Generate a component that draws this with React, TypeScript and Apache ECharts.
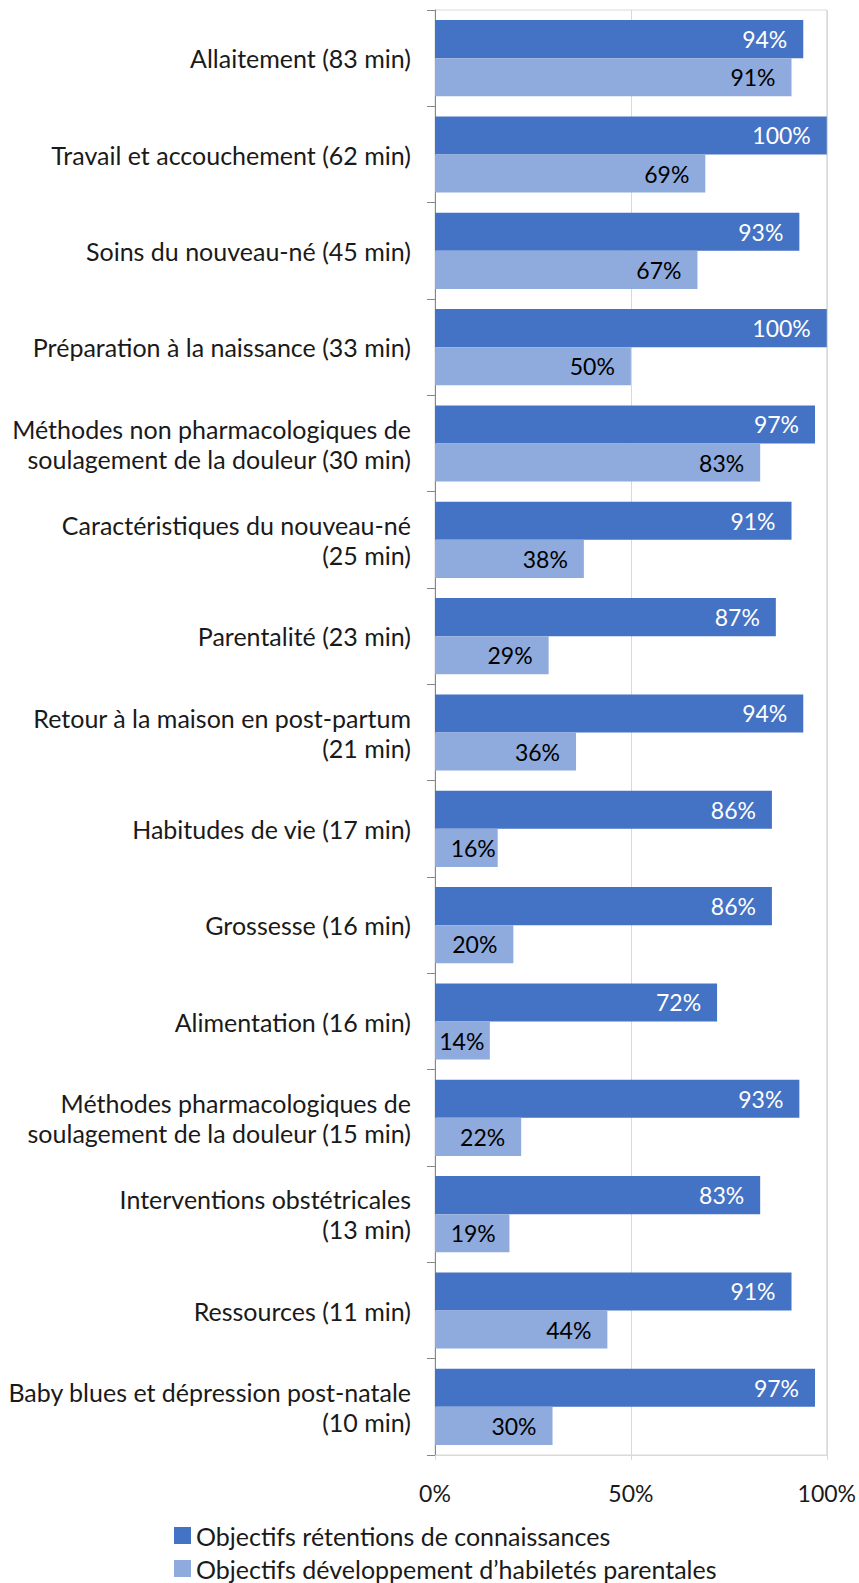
import React, { useEffect, useRef } from "react";
import * as echarts from "echarts";

const categories = [
  "Allaitement (83 min)",
  "Travail et accouchement (62 min)",
  "Soins du nouveau-né (45 min)",
  "Préparation à la naissance (33 min)",
  "Méthodes non pharmacologiques de\nsoulagement de la douleur (30 min)",
  "Caractéristiques du nouveau-né\n(25 min)",
  "Parentalité (23 min)",
  "Retour à la maison en post-partum\n(21 min)",
  "Habitudes de vie (17 min)",
  "Grossesse (16 min)",
  "Alimentation (16 min)",
  "Méthodes pharmacologiques de\nsoulagement de la douleur (15 min)",
  "Interventions obstétricales\n(13 min)",
  "Ressources (11 min)",
  "Baby blues et dépression post-natale\n(10 min)",
];

const retention = [94, 100, 93, 100, 97, 91, 87, 94, 86, 86, 72, 93, 83, 91, 97];
const habiletes = [91, 69, 67, 50, 83, 38, 29, 36, 16, 20, 14, 22, 19, 44, 30];

const seriesNames = [
  "Objectifs rétentions de connaissances",
  "Objectifs développement d’habiletés parentales",
];

const xTicks = [0, 50, 100];

const FONT = "Lato";
const PLOT_W = 393;
const LABEL_W = 44;

// Excel-like inside-end label padding: shrink padding when the bar is short
function labelDistance(v: number) {
  const room = (v / 100) * PLOT_W - LABEL_W;
  if (room >= 33) return 16;
  if (room > 17) return room - 17;
  return Math.max(1, room / 2);
}

export default function App() {
  const ref = useRef<HTMLDivElement>(null);
  useEffect(() => {
    document.body.style.margin = "0";
    const chart = echarts.init(ref.current!, null, { renderer: "svg" });
    const mkData = (arr: number[]) =>
      arr.map((v) => ({ value: v, label: { distance: labelDistance(v) } }));
    const legendBase = {
      orient: "vertical",
      left: 174,
      padding: 0,
      itemWidth: 17,
      itemHeight: 17,
      icon: "rect",
      textStyle: { fontFamily: FONT, fontSize: 25, lineHeight: 22, color: "#1a1a1a" },
    };
    chart.setOption({
      animation: false,
      textStyle: { fontFamily: FONT },
      grid: {
        left: 435,
        right: 31,
        top: 10,
        bottom: 128,
        show: true,
        borderColor: "#d9d9d9",
        borderWidth: 1,
      },
      legend: [
        { ...legendBase, top: 1523, data: [seriesNames[0]] },
        { ...legendBase, top: 1556, data: [seriesNames[1]] },
      ],
      xAxis: {
        type: "value",
        min: xTicks[0],
        max: xTicks[xTicks.length - 1],
        interval: 50,
        axisLine: { show: true, lineStyle: { color: "#d9d9d9" } },
        axisTick: { show: true, length: 5, lineStyle: { color: "#d9d9d9" } },
        splitLine: { show: true, lineStyle: { color: "#d9d9d9" } },
        axisLabel: {
          margin: 26,
          fontFamily: FONT,
          fontSize: 23,
          color: "#1a1a1a",
          formatter: (v: number) => v + "%",
        },
      },
      yAxis: {
        type: "category",
        inverse: true,
        data: categories,
        axisLine: { show: true, lineStyle: { color: "#868686" } },
        axisTick: { show: true, length: 8, lineStyle: { color: "#868686" } },
        axisLabel: {
          margin: 24,
          fontFamily: FONT,
          fontSize: 25,
          lineHeight: 30,
          color: "#1a1a1a",
          align: "right",
        },
      },
      series: [
        {
          name: seriesNames[0],
          type: "bar",
          data: mkData(retention),
          barGap: "0%",
          barCategoryGap: "21%",
          itemStyle: { color: "#4472c4" },
          label: {
            show: true,
            position: "insideRight",
            distance: 16,
            color: "#ffffff",
            fontFamily: FONT,
            fontSize: 23,
            formatter: "{c}%",
          },
        },
        {
          name: seriesNames[1],
          type: "bar",
          data: mkData(habiletes),
          barGap: "0%",
          barCategoryGap: "21%",
          itemStyle: { color: "#8faadc" },
          label: {
            show: true,
            position: "insideRight",
            distance: 16,
            color: "#000000",
            fontFamily: FONT,
            fontSize: 23,
            formatter: "{c}%",
          },
        },
      ],
    });
    return () => chart.dispose();
  }, []);
  return <div ref={ref} style={{ width: 859, height: 1583 }} />;
}
